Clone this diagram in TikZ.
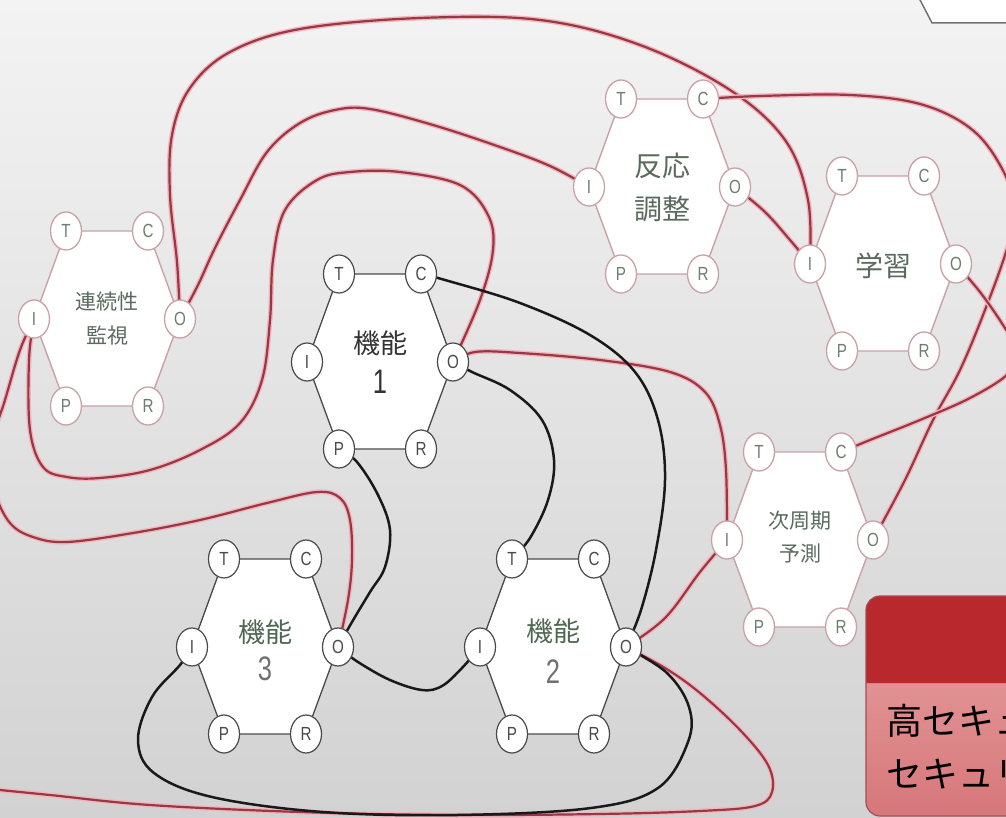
\documentclass[tikz,border=0pt]{standalone}
\usepackage{fontspec}
\setmainfont{Noto Sans CJK JP}
\newfontfamily\portfont{Liberation Sans}[FakeStretch=0.8]
\newfontfamily\digitfont{Liberation Sans}[FakeStretch=0.75]
\usetikzlibrary{shapes.geometric}
\definecolor{bgtop}{HTML}{F3F3F3}
\definecolor{bgbot}{HTML}{D2D2D2}
\definecolor{wirecore}{HTML}{983844}
\definecolor{wirehalo}{HTML}{F2B6BD}
\definecolor{hexred}{HTML}{C9A1A6}
\definecolor{hexdark}{HTML}{4A4A4A}
\definecolor{porttextr}{HTML}{6D7D6F}
\definecolor{porttextk}{HTML}{4A4A4A}
\definecolor{labgreen}{HTML}{5A6B5E}
\definecolor{labkgreen}{HTML}{4F6853}
\definecolor{digitgray}{HTML}{707070}
\definecolor{boxred}{HTML}{B8282D}
\definecolor{boxpinktop}{HTML}{E9A3A4}
\definecolor{boxpinkbot}{HTML}{D6777A}
\definecolor{boxedge}{HTML}{A24E52}
\pgfdeclarelayer{bg}
\pgfdeclarelayer{wires}
\pgfsetlayers{bg,wires,main}
\newcommand{\hexmod}[6]{%
\begin{scope}[shift={(#2,#3)}]
 \filldraw[hex#4] (-41,-88) -- (41,-88) -- (73,0) -- (41,87) -- (-41,87) -- (-73,0) -- cycle;
 \node[port#4] (#1T) at (-41,-88) {T};
 \node[port#4] (#1C) at (41,-88) {C};
 \node[port#4] (#1O) at (73,0) {O};
 \node[port#4] (#1R) at (41,87) {R};
 \node[port#4] (#1P) at (-41,87) {P};
 \node[port#4] (#1I) at (-73,0) {I};
 \node[align=center, inner sep=0pt, #6] (#1) at (0,0) {#5};
\end{scope}}
\begin{document}
\begin{tikzpicture}[x=1pt,y=-1pt,
  hexr/.style={fill=white, draw=hexred, line width=1.4pt},
  hexk/.style={fill=white, draw=hexdark, line width=1.3pt},
  portr/.style={ellipse, draw=hexred, fill=white, line width=1.3pt, minimum width=31pt, minimum height=38pt, inner sep=0pt, text=porttextr, font=\portfont\fontsize{19}{19}\selectfont},
  portk/.style={ellipse, draw=hexdark, fill=white, line width=1.2pt, minimum width=31pt, minimum height=38pt, inner sep=0pt, text=porttextk, font=\portfont\fontsize{19}{19}\selectfont},
  redw/.style={draw=wirecore, line width=2.2pt, preaction={draw=wirehalo, line width=5pt}},
  blkw/.style={draw=black!90, line width=2.5pt},
  sm/.style={smooth, tension=0.6}
]
\useasboundingbox (0,0) rectangle (1006,818);
\begin{pgfonlayer}{bg}
\shade[top color=bgtop, bottom color=bgbot] (0,0) rectangle (1006,818);
\end{pgfonlayer}

% modules
\hexmod{mon}{107}{319}{r}{連続性\\監視}{font=\fontsize{21}{34}\selectfont, text=labgreen}
\hexmod{adj}{662}{187}{r}{反応\\調整}{font=\fontsize{28}{43}\selectfont, text=labgreen}
\hexmod{learn}{883}{264}{r}{学習}{font=\fontsize{28}{34}\selectfont, text=labgreen, yshift=-2pt}
\hexmod{pred}{800}{540}{r}{次周期\\予測}{font=\fontsize{21}{33}\selectfont, text=labgreen, yshift=3pt}
\hexmod{fa}{380}{362}{k}{機能\\{\digitfont\fontsize{34}{34}\selectfont 1}}{font=\fontsize{27}{40}\selectfont, text=black!80}
\hexmod{fc}{265}{647}{k}{機能\\{\color{digitgray}\digitfont\fontsize{34}{34}\selectfont 3}}{font=\fontsize{27}{38}\selectfont, text=labkgreen, yshift=-3pt}
\hexmod{fb}{553}{647}{k}{機能\\{\color{digitgray}\digitfont\fontsize{34}{34}\selectfont 2}}{font=\fontsize{27}{42}\selectfont, text=labkgreen, yshift=-4pt}

\coordinate (gEnd) at (-40,786);

\begin{pgfonlayer}{wires}
% red wires
\draw[redw] plot[sm] coordinates {(monO.center) (177,262) (170,195) (172,135) (190,88) (230,52) (300,29) (420,18) (540,20) (640,45) (730,90) (785,140) (808,200) (learnI.center)};
\draw[redw] plot[sm] coordinates {(monO.center) (198,285) (215,248) (240,200) (267,152) (300,123) (335,110) (370,109) (433,125) (500,147) (550,166) (adjI.center)};
\draw[redw] plot[sm] coordinates {(monI.center) (29,360) (30,430) (43,467) (67,477) (100,478) (150,470) (200,450) (240,423) (262,380) (270,320) (273,260) (285,210) (317,180) (350,172) (400,172) (460,185) (488,215) (493,250) (480,300) (faO.center)};
\draw[redw] plot[sm] coordinates {(monI.center) (20,350) (5,400) (-10,450) (-5,492) (10,523) (33,537) (67,542) (133,533) (200,520) (267,503) (317,492) (340,498) (350,520) (352,560) (348,600) (fcO.center)};
\draw[redw] plot[sm] coordinates {(faO.center) (475,352) (520,353) (600,360) (670,372) (705,392) (720,425) (726,470) (predI.center)};
\draw[redw] plot[sm] coordinates {(fbO.center) (665,618) (700,572) (predI.center)};
\draw[redw] plot[sm] coordinates {(fbO.center) (665,668) (700,693) (740,730) (768,765) (772,792) (755,806) (700,811) (600,814) (450,815) (300,812) (150,805) (50,795) (0,790) (gEnd)};
\draw[redw] plot[sm] coordinates {(adjC.center) (760,96) (850,95) (920,104) (970,128) (1000,165) (1016,210) (1006,252) (985,310) (960,370) (933,420) (905,480) (predO.center)};
\draw[redw] plot[sm] coordinates {(learnO.center) (980,292) (1003,325) (1018,352) (1008,374) (970,398) (920,420) (870,440) (predC.center)};
\draw[redw] plot[sm] coordinates {(adjO.center) (765,212) (790,240) (learnI.center)};
% black wires
\draw[blkw] plot[sm] coordinates {(faC.center) (445,280) (520,303) (590,335) (635,372) (658,420) (665,480) (656,550) (641,610) (fbO.center)};
\draw[blkw] plot[sm] coordinates {(faO.center) (472,372) (510,390) (542,420) (554,460) (548,500) (530,538) (fbT.center)};
\draw[blkw] plot[sm] coordinates {(faP.center) (357,462) (378,495) (390,530) (385,567) (370,592) (352,622) (fcO.center)};
\draw[blkw] plot[sm] coordinates {(fcO.center) (358,662) (390,680) (422,690) (442,686) (462,668) (fbI.center)};
\draw[blkw] plot[sm] coordinates {(fcI.center) (180,665) (152,697) (138,740) (154,773) (212,797) (323,812) (457,815) (591,808) (658,788) (688,742) (689,707) (667,673) (fbO.center)};
\end{pgfonlayer}

% top-right fragment
\fill[white] (918,-2) -- (931,23) -- (1010,23) -- (1010,-2) -- cycle;
\draw[line width=1.5pt, color=black!55] (919,-2) -- (932,23) -- (1010,23);

% bottom-right box
\begin{scope}
\clip (0,0) rectangle (1006,818);
\shade[top color=boxpinktop, bottom color=boxpinkbot, rounded corners=14pt] (866,596) rectangle (1040,816);
\fill[boxred] (866,683) [rounded corners=14pt] -- (866,596) -- (1040,596) [sharp corners] -- (1040,683) -- cycle;
\draw[boxedge, line width=1.2pt, rounded corners=14pt] (866,596) rectangle (1040,816);
\node[anchor=base west, inner sep=0pt, font=\fontsize{36}{36}\selectfont, text=black] (sec1) at (886,734) {高セキュ};
\node[anchor=base west, inner sep=0pt, font=\fontsize{36}{36}\selectfont, text=black] (sec2) at (886,787) {セキュリ};
\end{scope}
\end{tikzpicture}
\end{document}
